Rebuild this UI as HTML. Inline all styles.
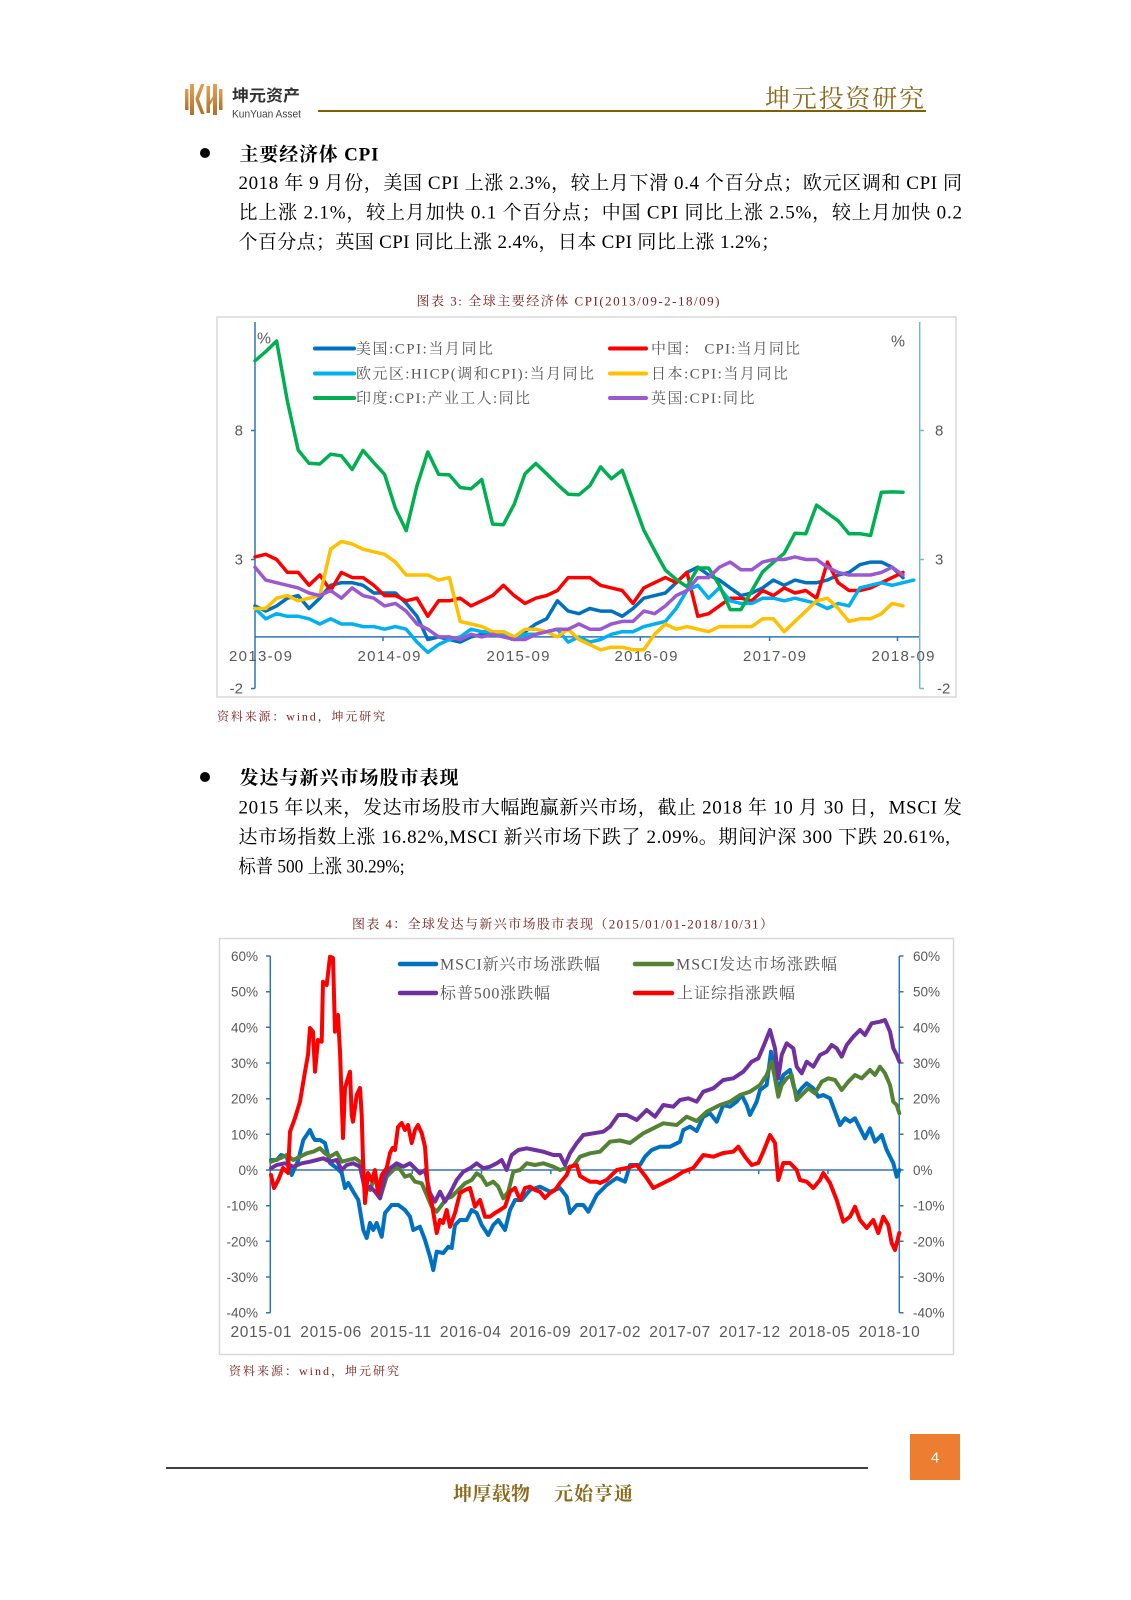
<!DOCTYPE html>
<html><head><meta charset="utf-8"><style>
html,body{margin:0;padding:0;background:#fff;}
svg{display:block;}
</style></head><body>
<svg xmlns="http://www.w3.org/2000/svg" width="1131" height="1600" viewBox="0 0 1131 1600">
<defs>
<linearGradient id="lg" x1="0" y1="0" x2="0" y2="1"><stop offset="0" stop-color="#E3A257"/><stop offset="1" stop-color="#B26F2C"/></linearGradient>
</defs>
<rect width="1131" height="1600" fill="#fff"/>

<!-- Header logo -->
<g fill="url(#lg)">
<rect x="185" y="89" width="3.5" height="21"/>
<rect x="190" y="84" width="4" height="31"/>
<polygon points="195.5,98 201,84 204.5,84 199,99 204.5,114 201,114 195.5,100"/>
<rect x="206.5" y="86" width="3.5" height="27"/>
<polygon points="210,101 213,96 213,100 210,105"/>
<rect x="213" y="84" width="4" height="31"/>
<rect x="219" y="89" width="3.5" height="21"/>
</g>
<text x="232" y="101" font-family="'Liberation Sans','Noto Sans CJK SC',sans-serif" font-size="16" font-weight="bold" fill="#333" textLength="68" lengthAdjust="spacingAndGlyphs">坤元资产</text>
<text x="232" y="117.5" font-family="'Liberation Sans',sans-serif" font-size="11" fill="#444" textLength="69" lengthAdjust="spacingAndGlyphs">KunYuan Asset</text>
<line x1="318" y1="111" x2="926" y2="111" stroke="#7F6000" stroke-width="2"/>
<text x="765" y="107" font-family="'Noto Serif CJK SC',serif" font-size="25" fill="#8A6A1C" textLength="159" lengthAdjust="spacing">坤元投资研究</text>

<!-- Section 1 -->
<g font-family="'Liberation Serif','Noto Serif CJK SC',serif" fill="#000">
<circle cx="205" cy="153" r="5"/>
<text x="239.5" y="160.5" font-size="19" font-weight="bold" textLength="139" lengthAdjust="spacing">主要经济体 CPI</text>
<text x="238.5" y="189" font-size="19" textLength="723.5" lengthAdjust="spacing">2018 年 9 月份，美国 CPI 上涨 2.3%，较上月下滑 0.4 个百分点；欧元区调和 CPI 同</text>
<text x="238.5" y="218.5" font-size="19" textLength="723.5" lengthAdjust="spacing">比上涨 2.1%，较上月加快 0.1 个百分点；中国 CPI 同比上涨 2.5%，较上月加快 0.2</text>
<text x="238.5" y="248" font-size="19" textLength="541.5" lengthAdjust="spacing">个百分点；英国 CPI 同比上涨 2.4%，日本 CPI 同比上涨 1.2%；</text>
</g>

<!-- Chart 1 -->
<text x="416.5" y="305.5" font-family="'Liberation Serif','Noto Serif CJK SC',serif" font-size="13" fill="#7C2020" textLength="303" lengthAdjust="spacing">图表 3: 全球主要经济体 CPI(2013/09-2-18/09)</text>
<rect x="217" y="317" width="739" height="380" fill="#fff" stroke="#D9D9D9" stroke-width="1.5"/>
<g stroke="#2E75B6" stroke-width="1.5" fill="none">
<line x1="255" y1="322" x2="255" y2="688.5"/>
<line x1="251" y1="430.5" x2="255" y2="430.5"/>
<line x1="251" y1="559.5" x2="255" y2="559.5"/>
<line x1="251" y1="688.5" x2="255" y2="688.5"/>
<line x1="255" y1="636.9" x2="919.7" y2="636.9"/>
<line x1="383" y1="636.9" x2="383" y2="641"/>
<line x1="511.5" y1="636.9" x2="511.5" y2="641"/>
<line x1="640.3" y1="636.9" x2="640.3" y2="641"/>
<line x1="769.6" y1="636.9" x2="769.6" y2="641"/>
<line x1="897.5" y1="636.9" x2="897.5" y2="641"/>
</g>
<g stroke="#7FB0DC" stroke-width="1.5" fill="none">
<line x1="919.7" y1="322" x2="919.7" y2="688.5"/>
<line x1="919.7" y1="430.5" x2="924" y2="430.5"/>
<line x1="919.7" y1="559.5" x2="924" y2="559.5"/>
<line x1="919.7" y1="688.5" x2="924" y2="688.5"/>
</g>
<g font-family="'Liberation Sans',sans-serif" font-size="15" fill="#595959">
<text x="243" y="435.5" text-anchor="end">8</text>
<text x="243" y="564.5" text-anchor="end">3</text>
<text x="243" y="693.5" text-anchor="end">-2</text>
<text x="935" y="435.5">8</text>
<text x="935" y="564.5">3</text>
<text x="937" y="693.5">-2</text>
<text x="257" y="343.5" font-size="16" textLength="14" lengthAdjust="spacingAndGlyphs">%</text>
<text x="891" y="346.5" font-size="16" textLength="14" lengthAdjust="spacingAndGlyphs">%</text>
<text x="229" y="661" textLength="63" lengthAdjust="spacing">2013-09</text>
<text x="357.5" y="661" textLength="63" lengthAdjust="spacing">2014-09</text>
<text x="486.5" y="661" textLength="63" lengthAdjust="spacing">2015-09</text>
<text x="614.5" y="661" textLength="63" lengthAdjust="spacing">2016-09</text>
<text x="743" y="661" textLength="63" lengthAdjust="spacing">2017-09</text>
<text x="871.5" y="661" textLength="63" lengthAdjust="spacing">2018-09</text>
</g>
<!-- legend 1 -->
<g stroke-width="4" stroke-linecap="round">
<line x1="315" y1="348.5" x2="354" y2="348.5" stroke="#0070C0"/>
<line x1="315" y1="373.5" x2="354" y2="373.5" stroke="#00B0F0"/>
<line x1="315" y1="398" x2="354" y2="398" stroke="#00B050"/>
<line x1="610" y1="348.5" x2="646" y2="348.5" stroke="#FF0000"/>
<line x1="610" y1="373.5" x2="646" y2="373.5" stroke="#FFC000"/>
<line x1="610" y1="398" x2="646" y2="398" stroke="#9B59D0"/>
</g>
<g font-family="'Liberation Serif','Noto Serif CJK SC',serif" font-size="15" fill="#595959">
<text x="356" y="353.5" textLength="137" lengthAdjust="spacing">美国:CPI:当月同比</text>
<text x="356" y="378.5" textLength="238" lengthAdjust="spacing">欧元区:HICP(调和CPI):当月同比</text>
<text x="356" y="403" textLength="174" lengthAdjust="spacing">印度:CPI:产业工人:同比</text>
<text x="651" y="353.5" textLength="149" lengthAdjust="spacing">中国： CPI:当月同比</text>
<text x="651" y="378.5" textLength="137" lengthAdjust="spacing">日本:CPI:当月同比</text>
<text x="651" y="403" textLength="103.5" lengthAdjust="spacing">英国:CPI:同比</text>
</g>
<g fill="none" stroke-width="3.5" stroke-linejoin="round" stroke-linecap="round">
<polyline stroke="#0070C0" points="255.0,605.9 265.8,611.1 276.6,605.9 287.4,598.2 298.2,595.6 309.0,608.5 319.8,598.2 330.6,585.3 341.4,582.7 352.2,582.7 363.0,585.3 373.8,593.0 384.6,593.0 395.4,593.0 406.2,603.4 417.0,616.3 427.8,639.5 438.6,636.9 449.4,639.5 460.2,642.1 471.0,636.9 481.8,634.3 492.6,631.7 503.4,631.7 514.2,636.9 525.0,631.7 535.8,624.0 546.6,618.8 557.4,600.8 568.2,611.1 579.0,613.7 589.8,608.5 600.6,611.1 611.4,611.1 622.2,616.3 633.0,608.5 643.8,598.2 654.6,595.6 665.4,593.0 676.2,582.7 687.0,572.4 697.8,567.2 708.6,575.0 719.4,580.1 730.2,587.9 741.0,595.6 751.8,593.0 762.6,587.9 773.4,580.1 784.2,585.3 795.0,580.1 805.8,582.7 816.6,582.7 827.4,580.1 838.2,575.0 849.0,572.4 859.8,564.7 870.6,562.1 881.4,562.1 892.2,567.2 903.0,577.6"/>
<polyline stroke="#FF0000" points="255.0,556.9 265.8,554.3 276.6,559.5 287.4,572.4 298.2,572.4 309.0,585.3 319.8,575.0 330.6,590.5 341.4,572.4 352.2,577.6 363.0,577.6 373.8,585.3 384.6,595.6 395.4,595.6 406.2,600.8 417.0,598.2 427.8,616.3 438.6,600.8 449.4,600.8 460.2,598.2 471.0,605.9 481.8,600.8 492.6,595.6 503.4,585.3 514.2,595.6 525.0,603.4 535.8,598.2 546.6,595.6 557.4,590.5 568.2,577.6 579.0,577.6 589.8,577.6 600.6,585.3 611.4,587.9 622.2,590.5 633.0,603.4 643.8,587.9 654.6,582.7 665.4,577.6 676.2,582.7 687.0,572.4 697.8,616.3 708.6,613.7 719.4,605.9 730.2,598.2 741.0,598.2 751.8,600.8 762.6,590.5 773.4,595.6 784.2,587.9 795.0,593.0 805.8,590.5 816.6,598.2 827.4,562.1 838.2,582.7 849.0,590.5 859.8,590.5 870.6,587.9 881.4,582.7 892.2,577.6 903.0,572.4"/>
<polyline stroke="#00B0F0" points="255.0,608.5 265.8,618.8 276.6,613.7 287.4,616.3 298.2,616.3 309.0,618.8 319.8,624.0 330.6,618.8 341.4,624.0 352.2,624.0 363.0,626.6 373.8,626.6 384.6,629.2 395.4,626.6 406.2,629.2 417.0,642.1 427.8,652.4 438.6,644.6 449.4,639.5 460.2,636.9 471.0,629.2 481.8,631.7 492.6,631.7 503.4,634.3 514.2,639.5 525.0,634.3 535.8,634.3 546.6,631.7 557.4,629.2 568.2,642.1 579.0,636.9 589.8,642.1 600.6,639.5 611.4,634.3 622.2,631.7 633.0,631.7 643.8,626.6 654.6,624.0 665.4,621.4 676.2,608.5 687.0,590.5 697.8,585.3 708.6,598.2 719.4,587.9 730.2,600.8 741.0,603.4 751.8,603.4 762.6,598.2 773.4,598.2 784.2,600.8 795.0,598.2 805.8,600.8 816.6,603.4 827.4,608.5 838.2,603.4 849.0,605.9 859.8,587.9 870.6,585.3 881.4,582.7 892.2,585.3 903.0,582.7 913.8,580.1"/>
<polyline stroke="#FFC000" points="255.0,608.5 265.8,608.5 276.6,598.2 287.4,595.6 298.2,600.8 309.0,598.2 319.8,595.6 330.6,549.2 341.4,541.4 352.2,544.0 363.0,549.2 373.8,551.8 384.6,554.3 395.4,562.1 406.2,575.0 417.0,575.0 427.8,575.0 438.6,580.1 449.4,577.6 460.2,621.4 471.0,624.0 481.8,626.6 492.6,631.7 503.4,631.7 514.2,636.9 525.0,629.2 535.8,629.2 546.6,631.7 557.4,636.9 568.2,629.2 579.0,639.5 589.8,644.6 600.6,649.8 611.4,647.2 622.2,647.2 633.0,649.8 643.8,649.8 654.6,634.3 665.4,624.0 676.2,629.2 687.0,626.6 697.8,629.2 708.6,631.7 719.4,626.6 730.2,626.6 741.0,626.6 751.8,626.6 762.6,618.8 773.4,618.8 784.2,631.7 795.0,621.4 805.8,611.1 816.6,600.8 827.4,598.2 838.2,608.5 849.0,621.4 859.8,618.8 870.6,618.8 881.4,613.7 892.2,603.4 903.0,605.9"/>
<polyline stroke="#00B050" points="255.0,360.8 265.8,351.6 276.6,341.0 287.4,401.3 298.2,450.1 309.0,463.3 319.8,464.0 330.6,454.2 341.4,455.8 352.2,469.5 363.0,450.4 373.8,462.7 384.6,474.4 395.4,508.4 406.2,530.6 417.0,485.7 427.8,451.9 438.6,474.4 449.4,474.9 460.2,487.5 471.0,488.8 481.8,479.5 492.6,524.1 503.4,524.7 514.2,504.3 525.0,473.8 535.8,463.5 546.6,473.8 557.4,484.4 568.2,494.2 579.0,494.7 589.8,485.7 600.6,466.9 611.4,478.7 622.2,470.2 633.0,500.2 643.8,530.1 654.6,550.5 665.4,570.1 676.2,579.4 687.0,586.8 697.8,568.0 708.6,568.0 719.4,585.3 730.2,609.6 741.0,609.6 751.8,590.7 762.6,571.9 773.4,562.3 784.2,553.3 795.0,533.2 805.8,533.7 816.6,505.1 827.4,513.1 838.2,520.8 849.0,533.7 859.8,533.7 870.6,535.5 881.4,492.2 892.2,491.9 903.0,492.2"/>
<polyline stroke="#9B59D0" points="255.0,567.2 265.8,580.1 276.6,582.7 287.4,585.3 298.2,587.9 309.0,593.0 319.8,595.6 330.6,590.5 341.4,598.2 352.2,587.9 363.0,595.6 373.8,598.2 384.6,605.9 395.4,603.4 406.2,611.1 417.0,624.0 427.8,629.2 438.6,636.9 449.4,636.9 460.2,639.5 471.0,634.3 481.8,636.9 492.6,634.3 503.4,636.9 514.2,639.5 525.0,639.5 535.8,634.3 546.6,631.7 557.4,629.2 568.2,629.2 579.0,624.0 589.8,629.2 600.6,629.2 611.4,624.0 622.2,621.4 633.0,621.4 643.8,611.1 654.6,613.7 665.4,605.9 676.2,595.6 687.0,590.5 697.8,577.6 708.6,577.6 719.4,567.2 730.2,562.1 741.0,569.8 751.8,569.8 762.6,562.1 773.4,559.5 784.2,559.5 795.0,556.9 805.8,559.5 816.6,559.5 827.4,567.2 838.2,572.4 849.0,575.0 859.8,575.0 870.6,575.0 881.4,572.4 892.2,567.2 903.0,575.0"/>
</g>
<text x="217" y="720.5" font-family="'Liberation Serif','Noto Serif CJK SC',serif" font-size="12" fill="#7C2020" textLength="168" lengthAdjust="spacing">资料来源：wind，坤元研究</text>

<!-- Section 2 -->
<g font-family="'Liberation Serif','Noto Serif CJK SC',serif" fill="#000">
<circle cx="205" cy="777" r="5"/>
<text x="239.5" y="784" font-size="19" font-weight="bold" textLength="219" lengthAdjust="spacing">发达与新兴市场股市表现</text>
<text x="238.5" y="813.5" font-size="19" textLength="723.5" lengthAdjust="spacing">2015 年以来，发达市场股市大幅跑赢新兴市场，截止 2018 年 10 月 30 日，MSCI 发</text>
<text x="238.5" y="843" font-size="19" textLength="711.5" lengthAdjust="spacing">达市场指数上涨 16.82%,MSCI 新兴市场下跌了 2.09%。期间沪深 300 下跌 20.61%,</text>
<text x="238.5" y="872.5" font-size="19" textLength="166" lengthAdjust="spacingAndGlyphs">标普 500 上涨 30.29%;</text>
</g>

<!-- Chart 2 -->
<text x="352" y="928.5" font-family="'Liberation Serif','Noto Serif CJK SC',serif" font-size="13" fill="#7C2020" textLength="421" lengthAdjust="spacing">图表 4：全球发达与新兴市场股市表现（2015/01/01-2018/10/31）</text>
<rect x="219.5" y="938.5" width="734" height="416" fill="#fff" stroke="#D9D9D9" stroke-width="1.5"/>
<g stroke="#2E75B6" stroke-width="1.5" fill="none">
<line x1="270.3" y1="956" x2="270.3" y2="1312.7"/>
<line x1="899.3" y1="956" x2="899.3" y2="1312.7"/>
<line x1="270.3" y1="1170" x2="899.3" y2="1170"/>
<path d="M266 956H270.3M266 991.7H270.3M266 1027.3H270.3M266 1063H270.3M266 1098.7H270.3M266 1134.3H270.3M266 1170H270.3M266 1205.7H270.3M266 1241.3H270.3M266 1277H270.3M266 1312.7H270.3"/>
<path d="M899.3 956H903.5M899.3 991.7H903.5M899.3 1027.3H903.5M899.3 1063H903.5M899.3 1098.7H903.5M899.3 1134.3H903.5M899.3 1170H903.5M899.3 1205.7H903.5M899.3 1241.3H903.5M899.3 1277H903.5M899.3 1312.7H903.5"/>
<path d="M342.9 1170V1174M412.2 1170V1174M481.5 1170V1174M550.8 1170V1174M620.1 1170V1174M689.4 1170V1174M758.7 1170V1174M828 1170V1174"/>
</g>
<g font-family="'Liberation Sans',sans-serif" font-size="13.5" fill="#595959">
<text x="258" y="961" text-anchor="end">60%</text>
<text x="258" y="996.7" text-anchor="end">50%</text>
<text x="258" y="1032.3" text-anchor="end">40%</text>
<text x="258" y="1068" text-anchor="end">30%</text>
<text x="258" y="1103.7" text-anchor="end">20%</text>
<text x="258" y="1139.3" text-anchor="end">10%</text>
<text x="258" y="1175" text-anchor="end">0%</text>
<text x="258" y="1210.7" text-anchor="end">-10%</text>
<text x="258" y="1246.3" text-anchor="end">-20%</text>
<text x="258" y="1282" text-anchor="end">-30%</text>
<text x="258" y="1317.7" text-anchor="end">-40%</text>
<text x="913" y="961">60%</text>
<text x="913" y="996.7">50%</text>
<text x="913" y="1032.3">40%</text>
<text x="913" y="1068">30%</text>
<text x="913" y="1103.7">20%</text>
<text x="913" y="1139.3">10%</text>
<text x="913" y="1175">0%</text>
<text x="913" y="1210.7">-10%</text>
<text x="913" y="1246.3">-20%</text>
<text x="913" y="1282">-30%</text>
<text x="913" y="1317.7">-40%</text>
</g>
<g font-family="'Liberation Sans',sans-serif" font-size="15.5" fill="#595959">
<text x="230.5" y="1337" textLength="61" lengthAdjust="spacing">2015-01</text>
<text x="300.3" y="1337" textLength="61" lengthAdjust="spacing">2015-06</text>
<text x="370.1" y="1337" textLength="61" lengthAdjust="spacing">2015-11</text>
<text x="439.9" y="1337" textLength="61" lengthAdjust="spacing">2016-04</text>
<text x="509.7" y="1337" textLength="61" lengthAdjust="spacing">2016-09</text>
<text x="579.5" y="1337" textLength="61" lengthAdjust="spacing">2017-02</text>
<text x="649.3" y="1337" textLength="61" lengthAdjust="spacing">2017-07</text>
<text x="719.1" y="1337" textLength="61" lengthAdjust="spacing">2017-12</text>
<text x="788.9" y="1337" textLength="61" lengthAdjust="spacing">2018-05</text>
<text x="858.7" y="1337" textLength="61" lengthAdjust="spacing">2018-10</text>
</g>
<!-- legend 2 -->
<g stroke-width="4.5" stroke-linecap="round">
<line x1="400" y1="964" x2="436" y2="964" stroke="#0070C0"/>
<line x1="400" y1="993" x2="436" y2="993" stroke="#7030A0"/>
<line x1="635" y1="964" x2="672" y2="964" stroke="#548235"/>
<line x1="635" y1="993" x2="672" y2="993" stroke="#FF0000"/>
</g>
<g font-family="'Liberation Serif','Noto Serif CJK SC',serif" font-size="16" fill="#595959">
<text x="440" y="969.5" textLength="160" lengthAdjust="spacing">MSCI新兴市场涨跌幅</text>
<text x="440" y="998.5" textLength="110" lengthAdjust="spacing">标普500涨跌幅</text>
<text x="676" y="969.5" textLength="161" lengthAdjust="spacing">MSCI发达市场涨跌幅</text>
<text x="677" y="998.5" textLength="118" lengthAdjust="spacing">上证综指涨跌幅</text>
</g>
<g fill="none" stroke-width="4" stroke-linejoin="round" stroke-linecap="round">
<polyline stroke="#0070C0" points="271,1160 276.7,1160 281,1155 286.7,1156.7 291.7,1175 298.3,1160 303.3,1140 306,1136 310,1130 313,1137 315,1140 320,1140 325,1143 330,1163 336.7,1168 341.7,1173 345,1188 348.3,1183 353.3,1191.7 358.3,1200 363.3,1230 366.7,1238 370,1223 373.3,1230 376.7,1223 381.7,1236.7 385,1213 391.7,1205 398.3,1205 405,1210 410,1216.7 413.3,1230 420,1226.7 425,1240 430,1256.7 433.3,1270 436.7,1251.7 443.3,1253 448.3,1246.7 451.7,1248 455,1225 460,1220 466.7,1220 471.7,1210 476.7,1213 481.7,1225 488.3,1235 493.3,1225 498.3,1220 505,1230 510,1210 515,1200 521.7,1200 530,1190 540,1186.7 550,1191.7 560,1188 566.7,1196.7 570,1213 576.7,1205 583.3,1205 588.3,1211.7 596.7,1195 606.7,1185 616.7,1178 625,1181.7 630,1165 640,1165 645,1156.7 651.7,1150 660,1146.7 670,1146.7 680,1141.7 683.3,1130 690,1126.7 696.7,1131 703.3,1116.7 710,1113.3 716.7,1121.7 723.3,1105 730,1106.7 736.7,1101.7 741.7,1095 746.7,1105 750,1115 756.7,1101.7 760,1090 766.7,1085 771,1051.7 775,1071.7 778.3,1091.7 783.3,1075 790,1070 793.3,1085 796.7,1095 801.7,1088.3 806.7,1083.3 813.3,1088.3 818.3,1096.7 823.3,1095 830,1098.3 835,1111.7 840,1125 845,1118.3 850,1121.7 855,1118.3 860,1128.3 865,1138.3 870,1128.3 875,1141.7 881.7,1135 886.7,1150 891.7,1160 893.3,1163 896.7,1176.7 899.3,1170"/>
<polyline stroke="#548235" points="271,1161.7 280,1158.3 286.7,1155 293.3,1160 300,1156.7 306.7,1153.3 313.3,1151.7 320,1148.3 325,1153.3 330,1156.7 336.7,1152.7 341.7,1161.7 348.3,1160 355,1158.3 360,1161.7 365,1186.7 370,1190 375,1176.7 380,1198.3 386.7,1176.7 393.3,1170 398.3,1166.7 405,1176.7 410,1175 415,1181.7 421.7,1183.3 426.7,1195 431.7,1206.7 436.7,1211.7 441.7,1205 446.7,1198.3 451.7,1196.7 458.3,1190 465,1183.3 471.7,1180 476.7,1173.3 481.7,1176.7 486.7,1185 493.3,1181.7 498.3,1186.7 503.3,1198.3 508.3,1191.7 513.3,1171.7 520,1170 526.7,1163.3 535,1165 543.3,1163.3 553.3,1166.7 560,1170 566.7,1168 573.3,1166 580,1156.7 590,1153.3 600,1151.7 610,1141.7 620,1140.5 630,1143 643.3,1133.3 653.3,1128.3 663.3,1123.3 676.7,1125 686.7,1116.7 696.7,1121 706.7,1111.7 720,1105 730,1101.7 740,1095 750,1091.7 760,1085 766.7,1075 771.7,1061.7 775,1078.3 778.3,1096.7 781.7,1085 786.7,1078.3 791.7,1075 796.7,1100 801.7,1095 808.3,1088.3 815,1093.3 821.7,1081.7 828.3,1078.3 835,1080 841.7,1090 848.3,1081.7 855,1075 861.7,1078.3 870,1070 875,1075 880,1066.7 885,1073.3 890,1085 893.3,1101.7 896.7,1105 899.3,1113.3"/>
<polyline stroke="#7030A0" points="271,1168.3 276.7,1165 285,1163.3 293.3,1166.7 301.7,1163.3 310,1161.7 316.7,1160 323.3,1158.3 330,1161.7 336.7,1160 341.7,1170 346.7,1165 353.3,1163.3 360,1166.7 365,1190 370,1186.7 375,1191.7 380,1198.3 385,1176.7 390,1168.3 396.7,1163.3 403.3,1166.7 410,1163.3 415,1168.3 420,1173.3 425,1170 430,1193.3 435,1201.7 440,1191.7 445,1201.7 450,1193.3 456.7,1180 463.3,1171.7 470,1168.3 476.7,1163.3 483.3,1168.3 490,1166.7 496.7,1163.3 501.7,1160 506.7,1170 511.7,1155 518.3,1150 526.7,1148.3 535,1150 543.3,1151.7 553.3,1155 560,1155 565,1165 570,1153.3 576.7,1143.3 583.3,1135 593.3,1133.3 603.3,1131.7 610,1126.7 618.3,1115 626.7,1115 636.7,1120 646.7,1110 655,1116.7 663.3,1105 673.3,1106.7 680,1100 688.3,1098.3 696.7,1101.7 703.3,1091.7 713.3,1088.3 723.3,1080 733.3,1078.3 743.3,1071.7 751.7,1061.7 758.3,1058.3 763.3,1046.7 770,1030 775,1048.3 778.3,1078.3 781.7,1055 786.7,1043.3 793.3,1048.3 796.7,1066.7 801.7,1073.3 806.7,1061.7 813.3,1066.7 820,1055 826.7,1051.7 831.7,1045 836.7,1048.3 841.7,1056.7 846.7,1045 853.3,1036.7 860,1030 865,1035 871.7,1023.3 880,1021.7 885,1020 890,1031.7 893.3,1048.3 896.7,1055 899.3,1061.7"/>
<polyline stroke="#FF0000" points="271,1175 274,1188 278.3,1180 283,1168 288,1173 290,1131.7 295,1118 300,1101.7 305,1071.7 308,1055 310,1028 313,1031.7 315,1071.7 318,1040 321.7,1041.7 323,981.7 326.7,985 330,956.7 333,958 335,1031.7 338,1015 340,1051.7 343,1138 345,1088 348,1078 350,1071.7 351.7,1115 353,1121.7 356.7,1095 360,1088 361.7,1115 363,1160 365,1203 368,1173 371.7,1181 375,1170 378,1193 381.7,1175 386.7,1168 390,1153 392.7,1148 395,1150 398,1127 401.7,1123 405,1130 408,1125 411.7,1143 415,1130 418,1125 421.7,1133 425,1146.7 428,1190 431.7,1203 436.7,1233 440,1220 443,1223 446.7,1210 450,1226.7 455,1213 460,1193 465,1190 470,1188 475,1206.7 480,1200 485,1216.7 490,1216.7 495,1213 500,1210 505,1206.7 510,1191.7 515,1188 520,1200 525,1188 530,1186.7 535,1190 540,1191.7 545,1198 550,1193 555,1190 560,1183 566.7,1175 570,1166.7 576.7,1165 580,1176 586.7,1180 590,1181.7 596.7,1181.7 600,1183 606.7,1180 616.7,1170 626.7,1168 636.7,1165 646.7,1178 653.3,1188 663.3,1183 673.3,1178 683.3,1171.7 693.3,1168 703.3,1155 713.3,1156.7 723.3,1153 733.3,1151.7 738.3,1146.7 745,1156.7 751.7,1165 758.3,1163 763.3,1151.7 770,1135 775,1143 778.3,1180 783.3,1163 790,1163 796.7,1170 800,1180 806.7,1181.7 813.3,1188 820,1180 823.3,1173 830,1183 836.7,1200 843.3,1221.7 850,1216.7 855,1206.7 860,1220 866.7,1228 873.3,1220 878.3,1233 883.3,1216.7 888.3,1225 891.7,1243 895,1250 899.3,1233"/>
</g>
<text x="229" y="1375" font-family="'Liberation Serif','Noto Serif CJK SC',serif" font-size="12" fill="#7C2020" textLength="170" lengthAdjust="spacing">资料来源：wind，坤元研究</text>

<!-- Footer -->
<line x1="166" y1="1468" x2="868" y2="1468" stroke="#000" stroke-width="1.6"/>
<g font-family="'Noto Serif CJK SC',serif" font-size="19" font-weight="bold" fill="#8A6A1C">
<text x="453" y="1500" textLength="77" lengthAdjust="spacing">坤厚载物</text>
<text x="554" y="1500" textLength="79" lengthAdjust="spacing">元始亨通</text>
</g>
<rect x="910" y="1434" width="50" height="46" fill="#ED7D31"/>
<text x="935" y="1462.5" text-anchor="middle" font-family="'Liberation Sans',sans-serif" font-size="15" fill="#fff">4</text>
</svg>
</body></html>
